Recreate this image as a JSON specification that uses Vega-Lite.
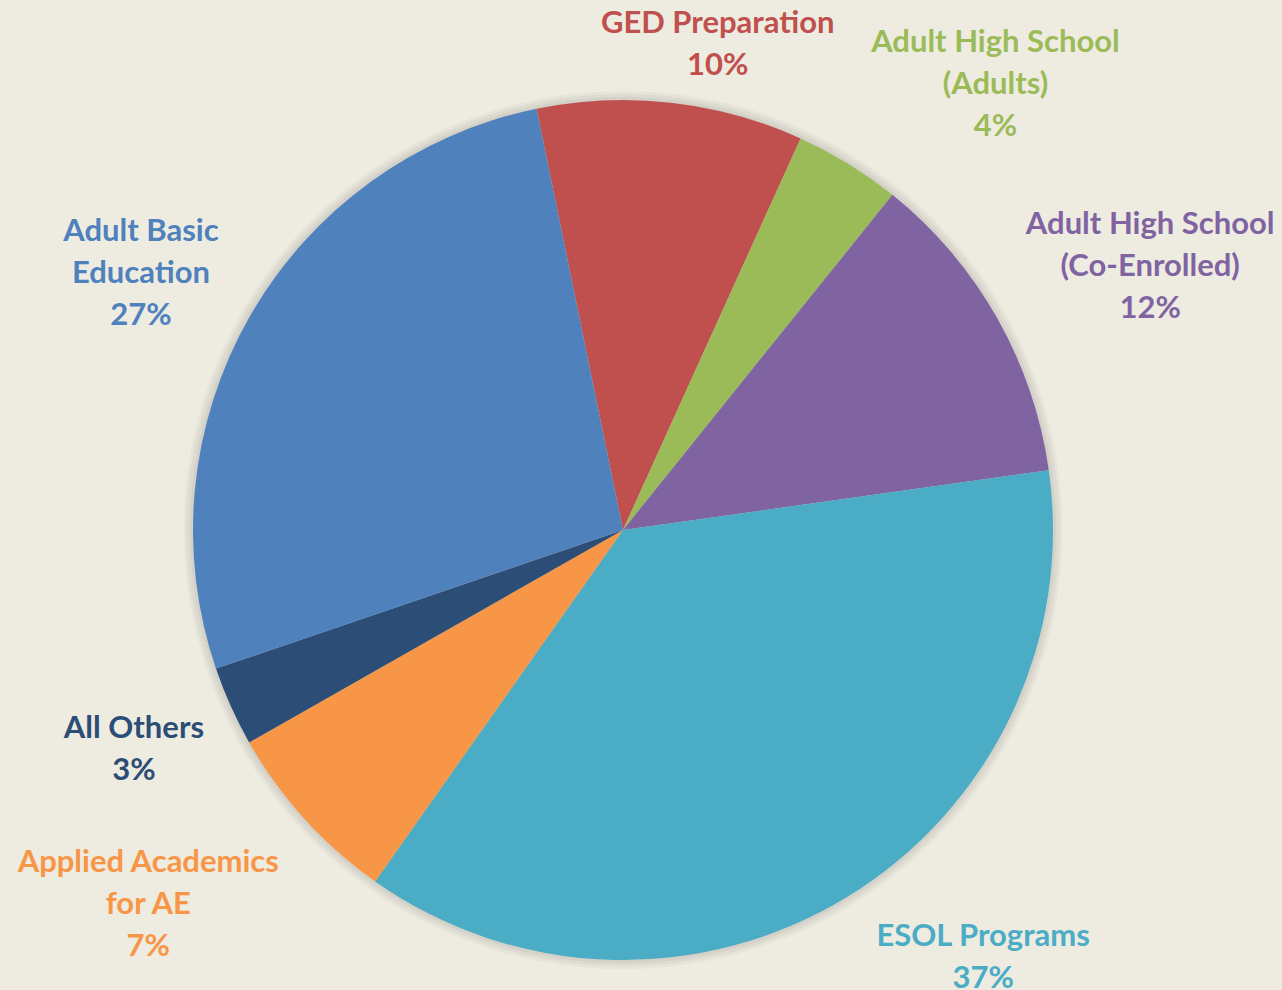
{
  "$schema": "https://vega.github.io/schema/vega-lite/v6.json",
  "width": 1246,
  "height": 920,
  "autosize": {"type": "none"},
  "padding": {"left": 0, "top": 70, "right": 36, "bottom": 0},
  "background": "#EEEBE1",
  "config": {"view": {"stroke": null}},
  "data": {
    "values": [
      {"ord": 1, "name": "GED Preparation", "pct": 10, "label": "GED Preparation\n10%"},
      {"ord": 2, "name": "Adult High School (Adults)", "pct": 4, "label": "Adult High School\n(Adults)\n4%"},
      {"ord": 3, "name": "Adult High School (Co-Enrolled)", "pct": 12, "label": "Adult High School\n(Co-Enrolled)\n12%"},
      {"ord": 4, "name": "ESOL Programs", "pct": 37, "label": "ESOL Programs\n37%"},
      {"ord": 5, "name": "Applied Academics for AE", "pct": 7, "label": "Applied Academics\nfor AE\n7%"},
      {"ord": 6, "name": "All Others", "pct": 3, "label": "All Others\n3%"},
      {"ord": 7, "name": "Adult Basic Education", "pct": 27, "label": "Adult Basic\nEducation\n27%"}
    ]
  },
  "encoding": {
    "theta": {"field": "pct", "type": "quantitative", "stack": true, "scale": {"domain": [0, 100], "range": [-0.2025, 6.0807]}},
    "order": {"field": "ord", "type": "quantitative"},
    "color": {
      "field": "name", "type": "nominal", "legend": null,
      "scale": {
        "domain": ["GED Preparation", "Adult High School (Adults)", "Adult High School (Co-Enrolled)", "ESOL Programs", "Applied Academics for AE", "All Others", "Adult Basic Education"],
        "range": ["#C0504D", "#9BBB59", "#8064A2", "#4BACC6", "#F79646", "#2C4D75", "#4F81BD"]
      }
    }
  },
  "layer": [
    {
      "data": {"values": [{"v": 100}]},
      "mark": {"type": "arc", "outerRadius": 439, "opacity": 0.03},
      "encoding": {"theta": {"field": "v", "type": "quantitative"}, "color": {"value": "#000000"}, "order": {"value": 0}}
    },
    {
      "data": {"values": [{"v": 100}]},
      "mark": {"type": "arc", "outerRadius": 436, "opacity": 0.035},
      "encoding": {"theta": {"field": "v", "type": "quantitative"}, "color": {"value": "#000000"}, "order": {"value": 0}}
    },
    {
      "data": {"values": [{"v": 100}]},
      "mark": {"type": "arc", "outerRadius": 433, "opacity": 0.045},
      "encoding": {"theta": {"field": "v", "type": "quantitative"}, "color": {"value": "#000000"}, "order": {"value": 0}}
    },
    {
      "mark": {"type": "arc", "outerRadius": 430}
    },
    {
      "mark": {"type": "text", "radius": 497, "thetaOffset": 0.08, "dy": -18, "font": "Lato", "fontWeight": "bold", "fontSize": 31, "lineHeight": 42, "lineBreak": "\n", "align": "center", "baseline": "middle"},
      "encoding": {"text": {"condition": {"test": "datum.ord == 1", "field": "label"}, "value": ""}}
    },
    {
      "mark": {"type": "text", "radius": 582, "thetaOffset": 0.143, "dy": -40, "font": "Lato", "fontWeight": "bold", "fontSize": 31, "lineHeight": 42, "lineBreak": "\n", "align": "center", "baseline": "middle"},
      "encoding": {"text": {"condition": {"test": "datum.ord == 2", "field": "label"}, "value": ""}}
    },
    {
      "mark": {"type": "text", "radius": 590, "thetaOffset": 0.051, "dy": -40, "font": "Lato", "fontWeight": "bold", "fontSize": 31, "lineHeight": 42, "lineBreak": "\n", "align": "center", "baseline": "middle"},
      "encoding": {"text": {"condition": {"test": "datum.ord == 3", "field": "label"}, "value": ""}}
    },
    {
      "mark": {"type": "text", "radius": 557, "thetaOffset": -0.155, "dy": -18, "font": "Lato", "fontWeight": "bold", "fontSize": 31, "lineHeight": 42, "lineBreak": "\n", "align": "center", "baseline": "middle"},
      "encoding": {"text": {"condition": {"test": "datum.ord == 4", "field": "label"}, "value": ""}}
    },
    {
      "mark": {"type": "text", "radius": 604, "thetaOffset": 0.07, "dy": -40, "font": "Lato", "fontWeight": "bold", "fontSize": 31, "lineHeight": 42, "lineBreak": "\n", "align": "center", "baseline": "middle"},
      "encoding": {"text": {"condition": {"test": "datum.ord == 5", "field": "label"}, "value": ""}}
    },
    {
      "mark": {"type": "text", "radius": 535, "thetaOffset": 0.005, "dy": -18, "font": "Lato", "fontWeight": "bold", "fontSize": 31, "lineHeight": 42, "lineBreak": "\n", "align": "center", "baseline": "middle"},
      "encoding": {"text": {"condition": {"test": "datum.ord == 6", "field": "label"}, "value": ""}}
    },
    {
      "mark": {"type": "text", "radius": 547, "thetaOffset": -0.028, "dy": -40, "font": "Lato", "fontWeight": "bold", "fontSize": 31, "lineHeight": 42, "lineBreak": "\n", "align": "center", "baseline": "middle"},
      "encoding": {"text": {"condition": {"test": "datum.ord == 7", "field": "label"}, "value": ""}}
    }
  ]
}
